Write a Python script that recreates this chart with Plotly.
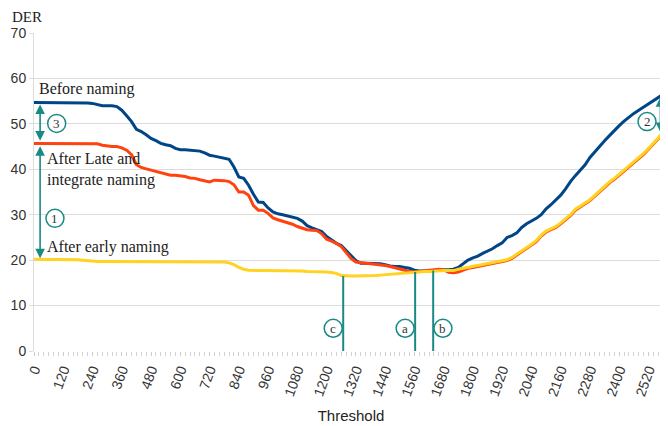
import plotly.graph_objects as go

# ---------------- data ----------------
thresholds = list(range(0, 2601, 20))

before_naming = [
    54.7, 54.7, 54.7, 54.7, 54.7, 54.7, 54.7, 54.7, 54.7, 54.7,
    54.6, 54.6, 54.5, 54.2, 54.0, 54.0, 54.0, 53.8, 53.0, 51.8,
    50.5, 48.8, 48.3, 47.6, 46.8, 46.3, 45.7, 45.4, 45.2, 44.6,
    44.3, 44.3, 44.2, 44.2, 44.0, 43.6, 43.1, 42.9, 42.7, 42.5,
    42.2, 40.5, 38.3, 38.0, 36.5, 34.5, 32.8, 32.7, 31.5, 30.6,
    30.2, 30.0, 29.7, 29.5, 29.2, 28.6, 27.6, 27.1, 26.7, 26.3,
    25.2, 24.4, 23.7, 23.2, 22.0, 21.0, 19.9, 19.3, 19.3, 19.3,
    19.3, 19.2, 19.0, 18.7, 18.6, 18.6, 18.4, 18.2, 17.8, 17.6,
    17.6, 17.7, 17.8, 17.9, 17.9, 17.9, 18.0, 18.4, 19.2, 20.0,
    20.5, 20.9, 21.5, 22.0, 22.5, 23.2, 23.8, 25.0, 25.4, 26.0,
    27.2, 28.0, 28.6, 29.2, 30.0, 31.3, 32.2, 33.2, 34.3, 35.7,
    37.3, 38.6, 39.8, 41.0, 42.6, 43.9, 45.2, 46.3, 47.4, 48.6,
    49.6, 50.6, 51.5, 52.3, 53.0, 53.7, 54.4, 55.1, 55.8, 56.5,
    57.2,
]

after_late_integrate = [
    45.7, 45.7, 45.7, 45.7, 45.7, 45.7, 45.7, 45.7, 45.7, 45.7,
    45.7, 45.7, 45.7, 45.6, 45.3, 45.1, 45.0, 45.0, 44.7, 44.2,
    43.2, 41.0, 40.4, 40.1, 39.8, 39.5, 39.2, 38.9, 38.7, 38.7,
    38.6, 38.4, 38.1, 38.0, 37.7, 37.5, 37.2, 37.6, 37.6, 37.5,
    37.3, 36.6, 35.0, 35.0, 34.3, 32.0, 31.0, 31.0, 30.3, 29.3,
    28.9, 28.6, 28.2, 27.9, 27.4, 27.0, 26.7, 26.6, 26.5, 25.8,
    24.6, 24.2, 23.7, 23.0, 21.8, 20.4, 19.6, 19.4, 19.3, 19.2,
    19.1, 19.0, 18.8, 18.6, 18.3, 18.0, 17.7, 17.5, 17.4, 17.5,
    17.6, 17.7, 17.9, 18.0, 17.9, 17.3, 17.2, 17.4, 17.8, 18.2,
    18.4, 18.6, 18.8, 19.1, 19.3, 19.4, 19.6, 19.9, 20.4, 21.1,
    21.8, 22.6, 23.3, 24.1, 25.3, 26.2, 26.7, 27.2, 28.0, 28.8,
    29.8, 31.0, 31.8, 32.4, 33.1, 34.1, 35.1, 36.0, 37.0, 37.8,
    38.7, 39.7, 40.6, 41.4, 42.3, 43.3, 44.4, 45.5, 46.7, 48.0,
    49.2,
]

after_early = [
    20.2, 20.2, 20.2, 20.2, 20.2, 20.2, 20.2, 20.2, 20.2, 20.1,
    20.0, 19.9, 19.7, 19.7, 19.7, 19.7, 19.7, 19.7, 19.7, 19.7,
    19.7, 19.7, 19.7, 19.7, 19.7, 19.7, 19.6, 19.6, 19.6, 19.6,
    19.6, 19.6, 19.6, 19.6, 19.6, 19.6, 19.6, 19.6, 19.6, 19.6,
    19.4, 19.0, 18.4, 18.0, 17.8, 17.7, 17.7, 17.7, 17.7, 17.7,
    17.7, 17.6, 17.6, 17.6, 17.6, 17.6, 17.5, 17.5, 17.5, 17.5,
    17.4, 17.3, 17.1, 16.6, 16.5, 16.5, 16.5, 16.5, 16.6, 16.6,
    16.6, 16.7, 16.8, 16.9, 17.0, 17.1, 17.2, 17.2, 17.3, 17.4,
    17.5, 17.5, 17.6, 17.6, 17.7, 17.7, 17.7, 18.0, 18.2, 18.4,
    18.6, 18.8, 19.0, 19.3, 19.5, 19.6, 19.8, 20.1, 20.6, 21.3,
    22.0, 22.8, 23.5, 24.3, 25.5, 26.4, 26.9, 27.4, 28.2, 29.0,
    30.0, 31.2, 32.0, 32.6, 33.3, 34.3, 35.3, 36.2, 37.2, 38.0,
    38.9, 39.9, 40.8, 41.6, 42.5, 43.5, 44.6, 45.7, 46.9, 48.2,
    49.4,
]

x_tick_vals = list(range(0, 2521, 120))
y_tick_vals = list(range(0, 71, 10))

# marker lines (threshold, top value, label)
marker_x = [1268, 1563, 1637]
marker_top = [16.5, 17.4, 17.7]
marker_lbl = ["c", "a", "b"]
marker_lbl_x = [1227, 1522, 1677]

TEAL = "#1a8a84"
SERIF = "Liberation Serif"
SANS = "Liberation Sans"

fig = go.Figure()
for name, vals, col in [
    ("Before naming", before_naming, "#004586"),
    ("After Late and integrate naming", after_late_integrate, "#ff420e"),
    ("After early naming", after_early, "#ffd320"),
]:
    fig.add_trace(go.Scatter(x=thresholds, y=vals, mode="lines", name=name,
                             line=dict(color=col, width=3)))

shapes = []
annotations = []

# vertical marker lines with circled letters
for mx, mt, ml, lx in zip(marker_x, marker_top, marker_lbl, marker_lbl_x):
    shapes.append(dict(type="line", xref="x", yref="y", x0=mx, x1=mx, y0=0, y1=mt,
                       line=dict(color=TEAL, width=2), layer="above"))
    shapes.append(dict(type="circle", xref="x", yref="y", xsizemode="pixel", ysizemode="pixel",
                       xanchor=lx, yanchor=5.0, x0=-9, x1=9, y0=-9, y1=9,
                       line=dict(color=TEAL, width=1.5), fillcolor="white", layer="above"))
    annotations.append(dict(x=lx, y=5.0, xref="x", yref="y", text=ml, showarrow=False,
                            font=dict(family=SERIF, size=13, color="#333333")))

# double arrows
for (ax_, y_top, y_bot) in [(25, 54.6, 46.3), (25, 45.4, 20.4), (2569, 56.2, 48.2)]:
    annotations.append(dict(x=ax_, y=y_bot, ax=ax_, ay=y_top, xref="x", yref="y",
                            axref="x", ayref="y", text="", showarrow=True,
                            arrowside="end+start", arrowhead=2, arrowsize=1.2,
                            arrowwidth=1.6, arrowcolor=TEAL, standoff=0, startstandoff=0))

# circled numbers
for (cx, cy, t) in [(93, 50.1, "3"), (86, 29.2, "1"), (2514, 50.5, "2")]:
    shapes.append(dict(type="circle", xref="x", yref="y", xsizemode="pixel", ysizemode="pixel",
                       xanchor=cx, yanchor=cy, x0=-9, x1=9, y0=-9, y1=9,
                       line=dict(color=TEAL, width=1.5), fillcolor="white", layer="above"))
    annotations.append(dict(x=cx, y=cy, xref="x", yref="y", text=t, showarrow=False,
                            font=dict(family=SERIF, size=13, color="#333333")))

# series labels
for (tx, ty, t) in [(14, 57.7, "Before naming"),
                    (47, 40.0, "After Late and<br>integrate naming"),
                    (47, 22.9, "After early naming")]:
    annotations.append(dict(x=tx, y=ty, xref="x", yref="y", text=t, showarrow=False,
                            xanchor="left", yanchor="middle", align="left",
                            font=dict(family=SERIF, size=16, color="#222222")))

# y-axis title (placed above the axis, as in the reference)
annotations.append(dict(x=-23 / 634, y=1 + 25 / 318, xref="paper", yref="paper", text="DER",
                        showarrow=False, xanchor="left", yanchor="top", borderpad=0,
                        font=dict(family=SERIF, size=15, color="#222222")))

# the page body adds an 8px offset, so the figure is sized/margined to compensate
fig.update_layout(
    width=660, height=418,
    margin=dict(l=26, r=0, t=25, b=75, autoexpand=False),
    paper_bgcolor="white", plot_bgcolor="white",
    showlegend=False,
    shapes=shapes,
    annotations=annotations,
    xaxis=dict(range=[0, 2600], tickmode="array", tickvals=x_tick_vals,
               ticktext=[str(v) for v in x_tick_vals], tickangle=-70,
               tickfont=dict(family=SANS, size=14, color="#333333"),
               showgrid=False, zeroline=False, showline=False, automargin=False,
               ticks="outside", ticklen=4, tickcolor="#cccccc",
               minor=dict(dtick=20, tick0=0, ticks="outside", ticklen=4, tickcolor="#d4d4d4"),
               title=dict(text="Threshold", font=dict(family=SANS, size=15, color="#222222"),
                          standoff=13)),
    yaxis=dict(range=[0, 70], tickmode="array", tickvals=y_tick_vals,
               tickfont=dict(family=SANS, size=14, color="#333333"),
               showgrid=True, gridcolor="#dcdcdc", gridwidth=1, automargin=False,
               zeroline=False, showline=True, linecolor="#dcdcdc",
               ticks="outside", ticklen=4, tickcolor="#dcdcdc"),
)

fig.write_html("out.html")
